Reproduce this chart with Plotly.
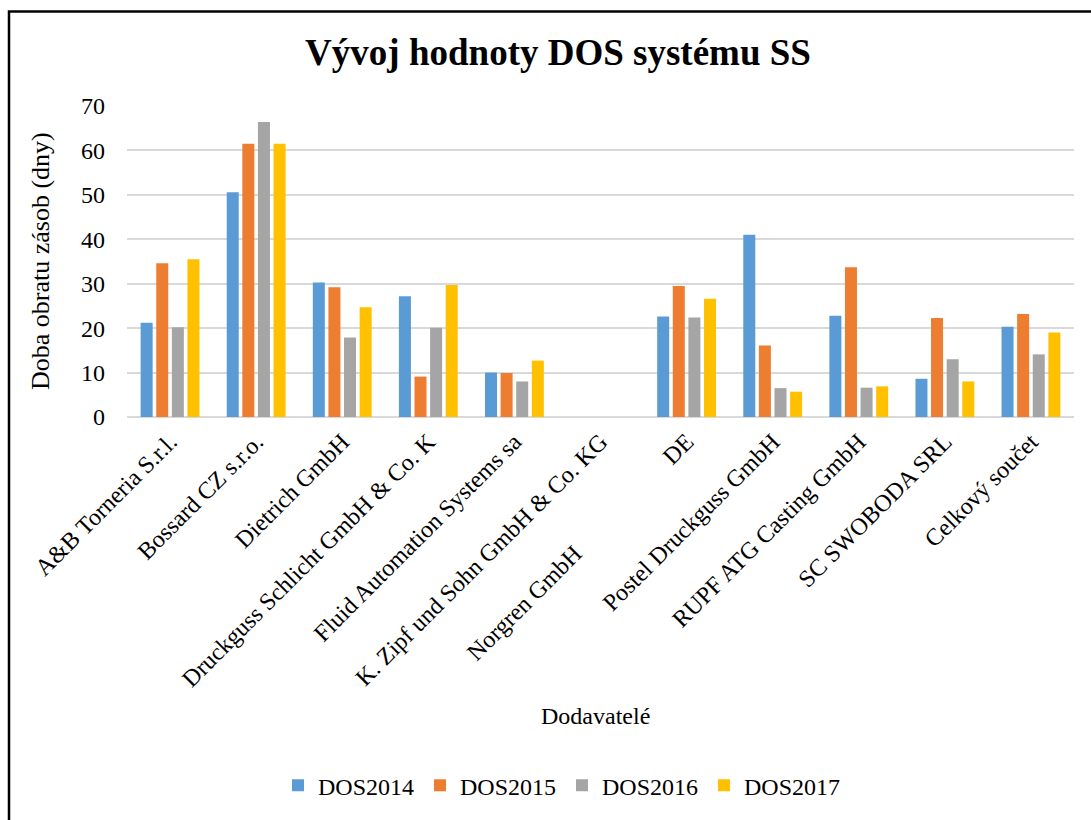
import plotly.graph_objects as go

categories = [
    "A&B Torneria S.r.l.",
    "Bossard CZ s.r.o.",
    "Dietrich GmbH",
    "Druckguss Schlicht GmbH & Co. K",
    "Fluid Automation Systems sa",
    "K. Zipf und Sohn GmbH & Co. KG",
    "Norgren GmbH" + "\u00a0" * 21 + "DE",
    "Postel Druckguss GmbH",
    "RUPF ATG Casting GmbH",
    "SC SWOBODA SRL",
    "Celkový součet",
]

dos2014 = [21.2, 50.6, 30.3, 27.2, 10.0, None, 22.6, 41.0, 22.8, 8.6, 20.3]
dos2015 = [34.6, 61.5, 29.2, 9.1, 9.9, None, 29.5, 16.1, 33.7, 22.3, 23.2]
dos2016 = [20.2, 66.4, 17.9, 20.1, 8.0, None, 22.4, 6.5, 6.6, 13.0, 14.1]
dos2017 = [35.5, 61.5, 24.7, 29.7, 12.7, None, 26.6, 5.7, 6.9, 8.0, 19.0]

series_names = ["DOS2014", "DOS2015", "DOS2016", "DOS2017"]
series_values = [dos2014, dos2015, dos2016, dos2017]
colors = ["#5B9BD5", "#ED7D31", "#A5A5A5", "#FFC000"]

FONT = "Liberation Serif, Times New Roman, serif"

fig = go.Figure()
for name, vals, col in zip(series_names, series_values, colors):
    fig.add_trace(go.Bar(name=name, x=categories, y=vals, marker_color=col,
                         marker_line_width=0))

W, H = 1091, 820
L, R, T, B = 127, 17, 106, 401
pw, ph = W - L - R, H - T - B

def px(x):
    return (x - L) / pw

def py(y):
    return (H - B - y) / ph

fig.update_layout(
    width=W, height=H,
    margin=dict(l=L, r=R, t=T, b=B),
    paper_bgcolor="white", plot_bgcolor="white",
    font=dict(family=FONT, size=24, color="black"),
    barmode="group", bargap=0.275, bargroupgap=0.23,
    showlegend=True,
    legend=dict(orientation="h", x=px(562), xanchor="center", y=py(790), yanchor="middle",
                font=dict(size=24), itemwidth=30, entrywidth=97, traceorder="normal"),
    title=dict(text="<b>Vývoj hodnoty DOS systému SS</b>", x=558 / W, xanchor="center",
               y=1 - 52 / H, yanchor="middle", font=dict(size=37, family=FONT)),
    xaxis=dict(tickangle=-45, tickfont=dict(size=24), showgrid=False, showline=False,
               ticks="", automargin=False, ticklabelstandoff=5),
    yaxis=dict(range=[0, 70], dtick=10, showgrid=True, gridcolor="#D9D9D9", gridwidth=1.5,
               zeroline=True, zerolinecolor="#D9D9D9", zerolinewidth=1.5,
               showline=False, ticks="", tickfont=dict(size=24), automargin=False,
               ticklabelstandoff=21),
    annotations=[
        dict(text="Doba obratu zásob (dny)", textangle=-90, xref="paper", yref="paper",
             x=px(40), y=py(262), xanchor="center", yanchor="middle", showarrow=False,
             font=dict(size=26)),
        dict(text="Dodavatelé", xref="paper", yref="paper", x=px(595), y=py(720),
             xanchor="center", yanchor="middle", showarrow=False, font=dict(size=24)),
    ],
    shapes=[
        dict(type="rect", xref="paper", yref="paper", x0=px(9), x1=px(1110),
             y0=py(840), y1=py(11), line=dict(color="black", width=2.5), layer="above"),
    ],
)

fig.write_html("out.html")
